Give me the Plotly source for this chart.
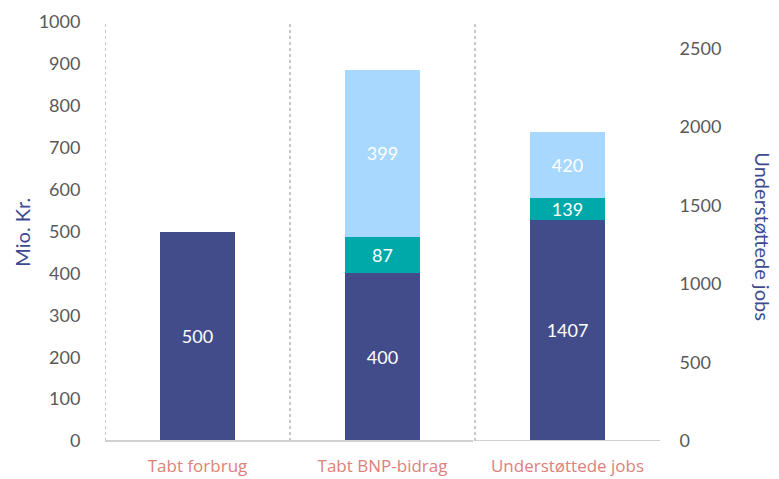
import plotly.graph_objects as go

categories = ["Tabt forbrug", "Tabt BNP-bidrag", "Understøttede jobs"]
# Left axis (Mio. Kr.) series
left_dark = [500, 400, None]
left_teal = [None, 87, None]
left_light = [None, 399, None]
# Right axis (Understøttede jobs) series
right_dark = [None, None, 1407]
right_teal = [None, None, 139]
right_light = [None, None, 420]

left_ticks = list(range(0, 1001, 100))
right_ticks = list(range(0, 2501, 500))

DARK = "#434C8A"
TEAL = "#00A9A9"
LIGHT = "#A9D8FF"
FONT = "Lato, 'Open Sans', sans-serif"
TXT = dict(family=FONT, size=18, color="white")

fig = go.Figure()

def add(vals, color, axis):
    fig.add_trace(go.Bar(
        x=categories, y=vals, yaxis=axis, marker=dict(color=color, line=dict(width=0)),
        width=0.405, text=[("" if v is None else str(v)) for v in vals],
        textposition="inside", insidetextanchor="middle", textfont=TXT,
        constraintext="none", textangle=0, showlegend=False, hoverinfo="skip"))

add(left_dark, DARK, "y")
add(left_teal, TEAL, "y")
add(left_light, LIGHT, "y")
add(right_dark, DARK, "y2")
add(right_teal, TEAL, "y2")
add(right_light, LIGHT, "y2")

fig.update_layout(
    template="none",
    width=779, height=479,
    margin=dict(l=97, r=127, t=14, b=46, autoexpand=False),
    paper_bgcolor="white", plot_bgcolor="white",
    barmode="stack",
    font=dict(family=FONT),
    xaxis=dict(
        type="category", range=[-0.5, 2.5], showgrid=False, zeroline=False,
        showline=False, ticks="outside", ticklen=10, tickcolor="rgba(0,0,0,0)",
        automargin=False,
        tickfont=dict(family="'Open Sans', sans-serif", size=17, color="#E0807A"),
    ),
    yaxis=dict(
        range=[0, 1000], tickvals=left_ticks, showgrid=False, zeroline=False,
        showline=False, ticks="outside", ticklen=20, tickcolor="rgba(0,0,0,0)",
        automargin=False,
        tickfont=dict(family=FONT, size=18, color="#595959"),
    ),
    yaxis2=dict(
        overlaying="y", side="right", range=[0, 2666.67], tickvals=right_ticks,
        showgrid=False, zeroline=False, showline=False, ticks="outside",
        ticklen=15, tickcolor="rgba(0,0,0,0)", automargin=False,
        tickfont=dict(family=FONT, size=18, color="#595959"),
    ),
)

# dotted separators between categories
for xb in [-0.5, 0.5, 1.5]:
    fig.add_shape(type="line", xref="x", yref="paper", x0=xb, x1=xb, y0=0, y1=1,
                  line=dict(color="#C8C8C8", width=2, dash="dot"), layer="below")

# bottom axis line and bracket
fig.add_shape(type="line", xref="x", yref="paper", x0=-0.5, x1=1.49, y0=0, y1=0,
              line=dict(color="#D0D0D0", width=2))
fig.add_shape(type="path", xref="x", yref="y",
              path="M 1.51,-12 L 1.51,0 L 2.5,0 L 2.5,-12",
              line=dict(color="#D0D0D0", width=2))

# axis titles
fig.add_annotation(text="Mio. Kr.", xref="paper", yref="paper", x=-0.150, y=0.499,
                   textangle=-90, showarrow=False, xanchor="center", yanchor="middle",
                   font=dict(family=FONT, size=20, color="#3D4A8F"))
fig.add_annotation(text="Understøttede jobs", xref="paper", yref="paper", x=1.186, y=0.488,
                   textangle=90, showarrow=False, xanchor="center", yanchor="middle",
                   font=dict(family=FONT, size=20, color="#3D4A8F"))

fig.write_html("out.html")
